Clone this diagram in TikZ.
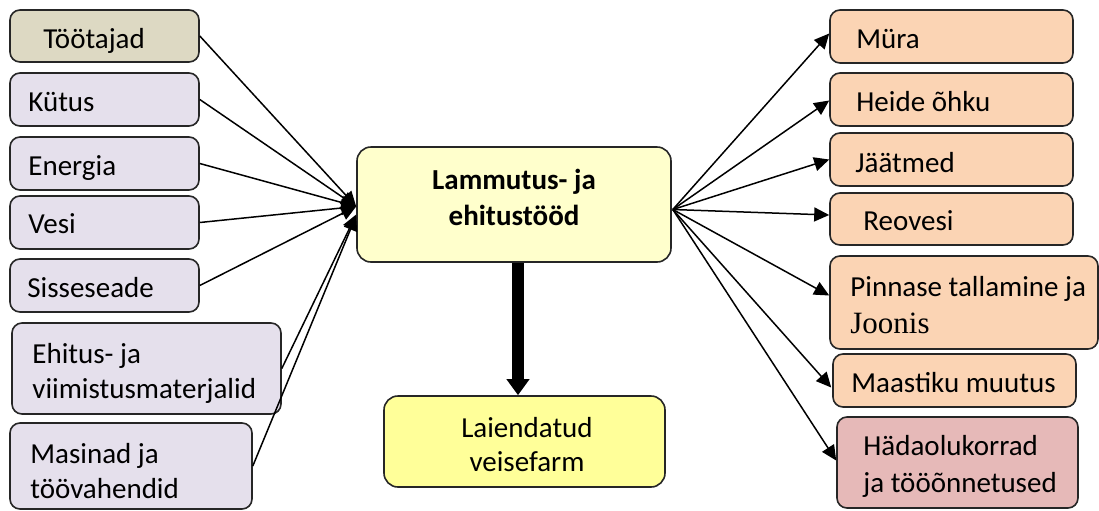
\documentclass[tikz,border=0pt]{standalone}
\usepackage{fontspec}
\setmainfont{Carlito}
\newfontfamily\joonisfont{Liberation Serif}
\usetikzlibrary{arrows.meta,fit,calc}
\definecolor{tanfill}{HTML}{DDD9C3}
\definecolor{lavfill}{HTML}{E5E0EC}
\definecolor{ctrfill}{HTML}{FFFFCC}
\definecolor{farmfill}{HTML}{FFFF99}
\definecolor{peachfill}{HTML}{FBD4B4}
\definecolor{rosefill}{HTML}{E6B9B8}
\newcommand\twoline[3]{\vtop{\baselineskip=#3\hbox{#1}\hbox{#2}}}
\newcommand\twocenter[3]{\vtop{\baselineskip=#3\halign{\hfil##\hfil\cr #1\cr #2\cr}}}
\begin{document}
\begin{tikzpicture}[x=0.5pt,y=-0.5pt,
  box/.style={draw=black!85, line width=0.8pt, rounded corners=5pt, inner sep=0pt},
  txt/.style={anchor=base west, inner sep=0pt, font=\fontsize{14.5}{17.5}\selectfont},
  ctxt/.style={anchor=base, inner sep=0pt, font=\fontsize{14.5}{17.5}\selectfont},
  conn/.style={line width=0.75pt, -{Triangle[length=7.5pt,width=7pt]}},
  bigarrow/.style={line width=6pt, -{Triangle[length=8pt,width=11pt]}}]
\useasboundingbox (0,0) rectangle (1099,510);
% left boxes
\node[box, fill=tanfill, fit={(10,10) (199,62)}] (toot) {};
\node[box, fill=lavfill, fit={(10,73) (199,126)}] (kyt) {};
\node[box, fill=lavfill, fit={(10,137) (199,190)}] (ener) {};
\node[box, fill=lavfill, fit={(10,196) (199,249)}] (vesi) {};
\node[box, fill=lavfill, fit={(10,259) (199,312)}] (siss) {};
\node[box, fill=lavfill, fit={(12,323) (281,414)}] (ehit) {};
\node[box, fill=lavfill, fit={(10,423) (252,509)}] (masi) {};
\node[txt] (tootT) at (43,48) {Töötajad};
\node[txt] (kytT) at (28,111) {Kütus};
\node[txt] (enerT) at (28,175) {Energia};
\node[txt] (vesiT) at (28,233) {Vesi};
\node[txt] (sissT) at (27,297) {Sisseseade};
\node[txt] (ehitT) at (32,363) {\twoline{Ehitus- ja}{viimistusmaterjalid}{17.5pt}};
\node[txt] (masiT) at (30,463) {\twoline{Masinad ja}{töövahendid}{17.5pt}};
% centre
\node[box, rounded corners=7pt, fill=ctrfill, fit={(357,147) (671,262)}] (ctr) {};
\node[ctxt] (ctrT) at (514,189) {\bfseries\twocenter{Lammutus- ja}{ehitustööd}{18pt}};
\node[box, rounded corners=7pt, fill=farmfill, fit={(384,396) (665,487)}] (farm) {};
\node[ctxt] (farmT) at (527,437) {\twocenter{Laiendatud}{veisefarm}{17pt}};
% right boxes
\node[box, fill=peachfill, fit={(830,10) (1073,63)}] (mura) {};
\node[box, fill=peachfill, fit={(830,73) (1073,126)}] (heid) {};
\node[box, fill=peachfill, fit={(830,133) (1073,186)}] (jaat) {};
\node[box, fill=peachfill, fit={(830,193) (1073,245)}] (reov) {};
\node[box, fill=peachfill, fit={(830,256) (1098,349)}] (pinn) {};
\node[box, fill=peachfill, fit={(833,354) (1076,407)}] (maas) {};
\node[box, fill=rosefill, fit={(837,417) (1078,508)}] (hada) {};
\node[txt] (muraT) at (856,48) {Müra};
\node[txt] (heidT) at (856,111) {Heide õhku};
\node[txt] (jaatT) at (855,172) {Jäätmed};
\node[txt] (reovT) at (863,230) {Reovesi};
\node[txt] (pinnT) at (850,296) {Pinnase tallamine ja};
\node[txt, font=\joonisfont\fontsize{15.5}{17.5}\selectfont] (joonT) at (850,333) {Joonis};
\node[txt] (maasT) at (851,392) {Maastiku muutus};
\node[txt] (hadaT) at (863,455) {\twoline{Hädaolukorrad}{ja tööõnnetused}{18.5pt}};
% left connectors
\draw[conn] (toot.east) -- ($(ctr.west)+(0,2)$);
\draw[conn] (kyt.east) -- ($(ctr.west)+(0,2)$);
\draw[conn] (ener.east) -- ($(ctr.west)+(0,2)$);
\draw[conn] (vesi.east) -- ($(ctr.west)+(0,2)$);
\draw[conn] (siss.east) -- ($(ctr.west)+(0,2)$);
\draw[conn] (ehit.east) -- ($(ctr.west)+(0,10)$);
\draw[conn] (masi.east) -- ($(ctr.west)+(0,11)$);
% right connectors
\coordinate (src) at ($(ctr.east)+(1,5)$);
\draw[conn] (src) -- ($(mura.west)+(0,-3)$);
\draw[conn] (src) -- ($(heid.west)+(0,1)$);
\draw[conn] (src) -- ($(jaat.west)+(0,0)$);
\draw[conn] (src) -- ($(reov.west)+(0,-4)$);
\draw[conn] (src) -- ($(pinn.west)+(0,-7)$);
\draw[conn] (src) -- ($(maas.west)+(-1,7)$);
\draw[conn] (src) -- ($(hada.west)+(0,-2)$);
% down arrow
\draw[bigarrow] ($(ctr.south)+(4,0)$) -- ($(ctr.south |- farm.north)+(4,0)$);
\end{tikzpicture}
\end{document}
